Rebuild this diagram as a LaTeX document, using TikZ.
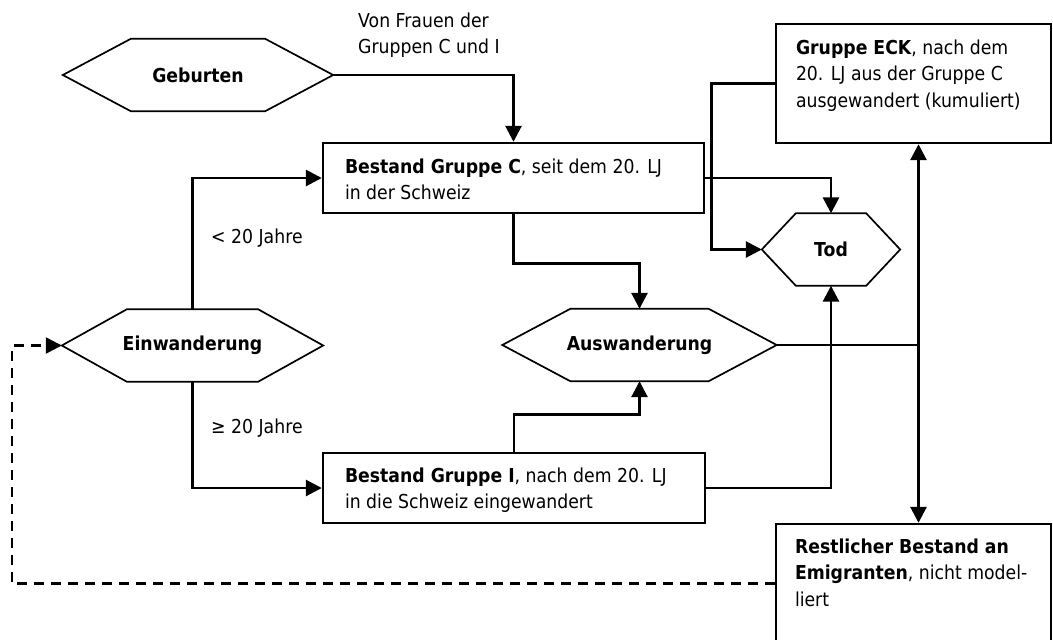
\documentclass[tikz,border=0pt]{standalone}
\usepackage{fontspec}
\setmainfont{DejaVu Sans}[FakeStretch=0.9]
\usetikzlibrary{arrows.meta}
\newcommand\fs{\fontsize{19.2}{26.5}\selectfont}
\newcommand\hexoutline[2]{\draw[hexline] (#1.west) -- ([xshift=#2pt]#1.north west) -- ([xshift=-#2pt]#1.north east) -- (#1.east) -- ([xshift=-#2pt]#1.south east) -- ([xshift=#2pt]#1.south west) -- cycle;}
\tikzset{
  hexnode/.style={inner sep=0pt, minimum height=72pt, minimum width=#1, font=\fs\bfseries},
  hexline/.style={line width=1.7pt, line join=miter},
  boxnode/.style={draw, line width=2.4pt, inner sep=0pt},
  txt/.style={anchor=north west, inner sep=0pt, align=left, font=\fs},
  lbl/.style={anchor=base west, inner sep=0pt, font=\fs},
  arr/.style={line width=2.8pt, -{Triangle[length=16pt,width=16pt]}},
  ln/.style={line width=2.8pt},
  dsh/.style={line width=2.4pt, dash pattern=on 10pt off 7pt, -{Triangle[length=16pt,width=16pt]}}
}
\begin{document}
\begin{tikzpicture}[x=1pt,y=-1pt]
\useasboundingbox (0,0) rectangle (1053,640);
\fill[white] (0,0) rectangle (1053,640);
\begin{scope}
\clip (0,0) rectangle (1053,640);
% hexagons
\node[hexnode=270pt] (geb) at (198,75) {Geburten};
\node[hexnode=138pt] (tod) at (831,249.5) {Tod};
\node[hexnode=261pt] (ein) at (192.5,345.5) {Einwanderung};
\node[hexnode=274pt] (aus) at (639.5,345) {Auswanderung};
\hexoutline{geb}{68}
\hexoutline{tod}{34}
\hexoutline{ein}{65}
\hexoutline{aus}{68}
% boxes
\node[boxnode, minimum width=381pt, minimum height=70pt] (boxC) at (513.5,178) {};
\node[boxnode, minimum width=382pt, minimum height=70pt] (boxI) at (514,488) {};
\node[boxnode, minimum width=275pt, minimum height=119pt] (eck) at (913.5,83.5) {};
\node[boxnode, minimum width=275pt, minimum height=119pt] (rest) at (913.5,583.5) {};
% box texts
\node[txt] (tC) at ([shift={(23,12.5)}]boxC.north west) {\strut\textbf{Bestand Gruppe C}, seit dem 20. LJ\\in der Schweiz};
\node[txt] (tI) at ([shift={(23,11.5)}]boxI.north west) {\strut\textbf{Bestand Gruppe I}, nach dem 20. LJ\\in die Schweiz eingewandert};
\node[txt] (tE) at ([shift={(21,12.5)}]eck.north west) {\strut\textbf{Gruppe ECK}, nach dem\\20. LJ aus der Gruppe C\\ausgewandert (kumuliert)};
\node[txt] (tR) at ([shift={(20,11.5)}]rest.north west) {\strut\textbf{Restlicher Bestand an}\\\textbf{Emigranten}, nicht model-\\liert};
% labels
\node[txt] (von) at (358,8.5) {\strut Von Frauen der\\Gruppen C und I};
\node[lbl] (lt) at (211,243) {< 20 Jahre};
\node[lbl] (ge) at (211,433) {≥ 20 Jahre};
% connectors
\coordinate (junc) at (918.5,345);
\draw[arr] (geb.east) -| (boxC.north);
\draw[arr] (ein.north) |- (boxC.west);
\draw[arr] (ein.south) |- (boxI.west);
\draw[arr] (boxC.south) -- ++(0,49) -| (aus.north);
\draw[arr] (boxI.north) -- ++(0,-37) -| (aus.south);
\draw[arr] (boxC.east) -| (tod.north);
\draw[arr] (boxI.east) -| (tod.south);
\draw[arr] (eck.west) -- ++(-63,0) |- (tod.west);
\draw[ln] (aus.east) -- (junc);
\draw[arr] (junc) -- (junc |- eck.south);
\draw[arr] (junc) -- (junc |- rest.north);
\draw[dsh] (rest.west) -- ++(-763,0) |- (ein.west);
\end{scope}
\end{tikzpicture}
\end{document}
